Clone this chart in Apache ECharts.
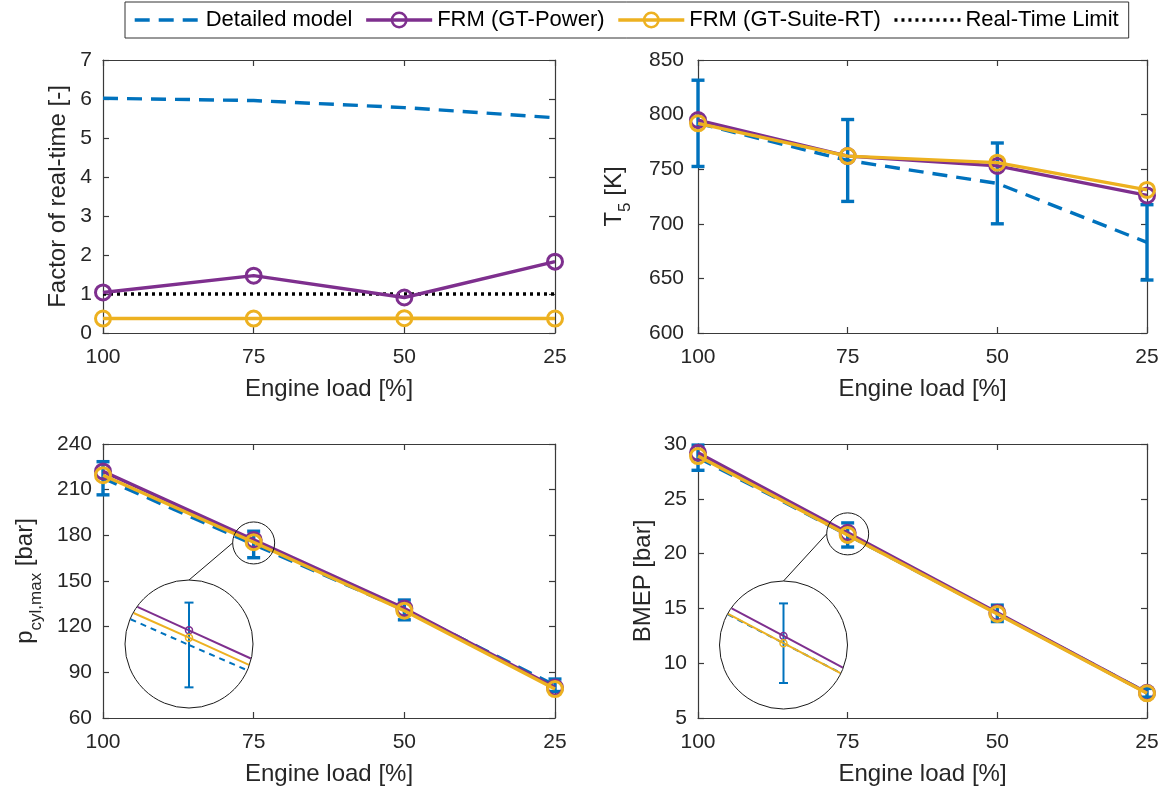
<!DOCTYPE html>
<html>
<head>
<meta charset="utf-8">
<script src="https://cdn.jsdelivr.net/npm/echarts@6.0.0/dist/echarts.min.js"></script>
<style>
  html, body { margin: 0; padding: 0; background: #fff; }
  #chart { width: 1166px; height: 791px; }
</style>
</head>
<body>
<div id="chart"></div>
<script>
// ---- data -------------------------------------------------------------
const loads = [100, 75, 50, 25];                 // engine load [%]
const loadAxis = [25, 100, 25];                  // min, max, step

// Factor of real-time [-]
const rtDetailed = [6.02, 5.96, 5.78, 5.52];
const rtGtPower  = [1.04, 1.47, 0.91, 1.83];
const rtGtSuite  = [0.37, 0.37, 0.38, 0.37];
const rtLimit    = [1, 1, 1, 1];
const rtAxis     = [0, 7, 1];

// Exhaust temperature T5 [K]
const t5Detailed = [792, 758, 737, 683];
const t5Spread   = [39.5, 37.5, 37, 34.5];
const t5GtPower  = [795, 762, 753, 726];
const t5GtSuite  = [792, 762, 756, 731];
const t5Axis     = [600, 850, 50];

// Peak cylinder pressure [bar]
const pDetailed  = [217.5, 174, 131, 81.5];
const pSpread    = [10.9, 8.7, 6.5, 4.1];
const pGtPower   = [222, 177, 132, 80];
const pGtSuite   = [219.5, 175.5, 130.5, 79];
const pAxis      = [60, 240, 30];

// Brake mean effective pressure [bar]
const bDetailed  = [28.75, 21.7, 14.55, 7.3];
const bSpread    = [1.15, 1.1, 0.75, 0.4];
const bGtPower   = [29.2, 21.9, 14.6, 7.3];
const bGtSuite   = [28.9, 21.7, 14.5, 7.25];
const bAxis      = [5, 30, 5];

const NAMES = ['Detailed model', 'FRM (GT-Power)', 'FRM (GT-Suite-RT)', 'Real-Time Limit'];

// ---- styling ------------------------------------------------------------
const FONT = "'Liberation Sans', Arial, Helvetica, sans-serif";
const INK = '#262626';
const FRAME = '#3a3a3a';
const BLUE = '#0072BD';
const PURPLE = '#7E2F8E';
const YELLOW = '#EDB120';
const NONE = 'rgba(255,255,255,0)';
const DASH = [15, 9];
const LW = 3.4;

// panel rectangles: top-left, top-right, bottom-left, bottom-right
const panels = [
  { left: 103, top: 60,  width: 452, height: 273 },
  { left: 698, top: 60,  width: 449, height: 273 },
  { left: 103, top: 444, width: 452, height: 274 },
  { left: 698, top: 444, width: 449, height: 274 }
];
const yAxes = [rtAxis, t5Axis, pAxis, bAxis];
const labelMargins = [11, 14, 11, 11];

const sub = (m, s, rest) => '{m|' + m + '}{s|' + s + '}{m|' + rest + '}';
const yNames = [
  'Factor of real-time [-]',
  sub('T', '5', ' [K]'),
  sub('p', 'cyl,max', ' [bar]'),
  'BMEP [bar]'
];
const yNameGaps = [33, 64, 58, 43];

// magnified views around the 75 % point of the pressure panels
const zooms = [
  { panel: 2, left: 125,   top: 580, size: 128, center: [75, 174.2], focus: [75, 175],  mag: 3.2, ring: 21,
    detailed: pDetailed, spread: pSpread, power: pGtPower, suite: pGtSuite },
  { panel: 3, left: 719.5, top: 581, size: 128, center: [75, 21.65], focus: [75, 21.8], mag: 3.3, ring: 21,
    detailed: bDetailed, spread: bSpread, power: bGtPower, suite: bGtSuite }
];

// ---- axes -----------------------------------------------------------------
// panel g owns xAxis/yAxis 2g (labelled) and 2g+1 (mirrored frame ticks)
const grids = [];
const xAxis = [];
const yAxis = [];
const frameLine = { lineStyle: { color: FRAME, width: 1.2 } };
const tickStyle = { inside: true, length: 6, lineStyle: { color: FRAME, width: 1.2 } };

panels.forEach((p, g) => {
  grids.push(Object.assign({ show: false }, p));
  const [ymin, ymax, ystep] = yAxes[g];
  const xBase = {
    gridIndex: g, type: 'value', min: loadAxis[0], max: loadAxis[1], interval: loadAxis[2], inverse: true,
    axisLine: Object.assign({ onZero: false }, frameLine), axisTick: tickStyle, splitLine: { show: false }
  };
  xAxis.push(Object.assign({}, xBase, {
    position: 'bottom',
    axisLabel: { color: INK, fontSize: 21, fontFamily: FONT, margin: 14 },
    name: 'Engine load [%]', nameLocation: 'middle', nameGap: 44,
    nameTextStyle: { color: INK, fontSize: 24, fontFamily: FONT }
  }));
  xAxis.push(Object.assign({}, xBase, { position: 'top', axisLabel: { show: false } }));
  const yBase = {
    gridIndex: g, type: 'value', min: ymin, max: ymax, interval: ystep,
    axisLine: Object.assign({ onZero: false }, frameLine), axisTick: tickStyle, splitLine: { show: false }
  };
  yAxis.push(Object.assign({}, yBase, {
    position: 'left',
    axisLabel: { color: INK, fontSize: 21, fontFamily: FONT, margin: labelMargins[g] },
    name: yNames[g], nameLocation: 'middle', nameRotate: 90, nameGap: yNameGaps[g],
    nameTextStyle: {
      color: INK, fontSize: 24, fontFamily: FONT,
      rich: {
        m: { color: INK, fontSize: 24, fontFamily: FONT, verticalAlign: 'top' },
        s: { color: INK, fontSize: 17, fontFamily: FONT, lineHeight: 32, verticalAlign: 'bottom' }
      }
    }
  }));
  yAxis.push(Object.assign({}, yBase, { position: 'right', axisLabel: { show: false } }));
});

// hidden axes for the magnified views
zooms.forEach((z) => {
  const gi = grids.length;
  grids.push({ show: false, left: z.left, top: z.top, width: z.size, height: z.size });
  const p = panels[z.panel];
  const [ymin, ymax] = yAxes[z.panel];
  const pxX = p.width / (loadAxis[1] - loadAxis[0]) * z.mag;
  const pxY = p.height / (ymax - ymin) * z.mag;
  const hx = z.size / 2 / pxX;
  const hy = z.size / 2 / pxY;
  z.axis = xAxis.length;
  xAxis.push({ gridIndex: gi, type: 'value', show: false, inverse: true,
    min: z.center[0] - hx, max: z.center[0] + hx });
  yAxis.push({ gridIndex: gi, type: 'value', show: false,
    min: z.center[1] - hy, max: z.center[1] + hy });
});

// ---- series -----------------------------------------------------------------
const pairs = (vals) => loads.map((x, i) => [x, vals[i]]);

function detailedLine(ax, vals) {
  return {
    name: NAMES[0], type: 'line', xAxisIndex: ax, yAxisIndex: ax, data: pairs(vals),
    symbol: 'none', lineStyle: { color: BLUE, width: LW, type: DASH },
    itemStyle: { color: NONE, borderWidth: 0 }, z: 3
  };
}
function frmLine(ax, vals, name, color, z) {
  return {
    name, type: 'line', xAxisIndex: ax, yAxisIndex: ax, data: pairs(vals),
    symbol: 'circle', symbolSize: 15,
    lineStyle: { color, width: LW },
    itemStyle: { color: NONE, borderColor: color, borderWidth: 3 },
    z
  };
}
function limitLine(ax, vals) {
  return {
    name: NAMES[3], type: 'line', xAxisIndex: ax, yAxisIndex: ax, data: pairs(vals),
    symbol: 'none', lineStyle: { color: '#000', width: LW, type: [3, 4] },
    itemStyle: { color: NONE, borderWidth: 0 }, z: 3
  };
}
function spreadBars(ax, centers, spreads, cap, width, onlyIndex) {
  const rows = loads.map((x, i) => [x, centers[i] - spreads[i], centers[i] + spreads[i]])
    .filter((r, i) => onlyIndex === undefined || i === onlyIndex);
  return {
    name: 'Detailed model spread', type: 'custom', xAxisIndex: ax, yAxisIndex: ax,
    clip: false, silent: true, z: 2, data: rows, encode: { x: 0, y: [1, 2] },
    renderItem(params, api) {
      const lo = api.coord([api.value(0), api.value(1)]);
      const hi = api.coord([api.value(0), api.value(2)]);
      const st = { stroke: BLUE, lineWidth: width };
      return {
        type: 'group', children: [
          { type: 'line', shape: { x1: lo[0], y1: lo[1], x2: hi[0], y2: hi[1] }, style: st },
          { type: 'line', shape: { x1: lo[0] - cap, y1: lo[1], x2: lo[0] + cap, y2: lo[1] }, style: st },
          { type: 'line', shape: { x1: hi[0] - cap, y1: hi[1], x2: hi[0] + cap, y2: hi[1] }, style: st }
        ]
      };
    }
  };
}

// segment a-b limited to the inside of circle (c, r)
function clipToCircle(a, b, c, r) {
  const dx = b[0] - a[0], dy = b[1] - a[1];
  const fx = a[0] - c[0], fy = a[1] - c[1];
  const A = dx * dx + dy * dy, B = 2 * (fx * dx + fy * dy), C = fx * fx + fy * fy - r * r;
  const disc = B * B - 4 * A * C;
  if (A === 0 || disc <= 0) return null;
  const s = Math.sqrt(disc);
  const t0 = Math.max(0, (-B - s) / (2 * A));
  const t1 = Math.min(1, (-B + s) / (2 * A));
  if (t0 >= t1) return null;
  return [[a[0] + t0 * dx, a[1] + t0 * dy], [a[0] + t1 * dx, a[1] + t1 * dy]];
}

// a trace drawn inside a round magnifier
function zoomTrace(ax, vals, color, width, dash, marker, z) {
  return {
    type: 'custom', xAxisIndex: ax, yAxisIndex: ax, clip: false, silent: true, z,
    data: [[loads[1], vals[1]]],
    renderItem(params, api) {
      const cs = params.coordSys;
      const c = [cs.x + cs.width / 2, cs.y + cs.height / 2];
      const r = cs.width / 2 - 0.5;
      const pts = loads.map((x, i) => api.coord([x, vals[i]]));
      const children = [];
      for (let i = 0; i < pts.length - 1; i++) {
        const seg = clipToCircle(pts[i], pts[i + 1], c, r);
        if (seg) {
          children.push({
            type: 'line',
            shape: { x1: seg[0][0], y1: seg[0][1], x2: seg[1][0], y2: seg[1][1] },
            style: { stroke: color, lineWidth: width, lineDash: dash || null }
          });
        }
      }
      if (marker) {
        pts.forEach((p) => {
          if (Math.hypot(p[0] - c[0], p[1] - c[1]) < r - 4) {
            children.push({ type: 'circle', shape: { cx: p[0], cy: p[1], r: 3.5 },
              style: { fill: 'none', stroke: color, lineWidth: 1.5 } });
          }
        });
      }
      return { type: 'group', children };
    }
  };
}

const P = (g) => 2 * g;   // labelled axis index of panel g
const series = [
  // factor of real-time
  detailedLine(P(0), rtDetailed),
  limitLine(P(0), rtLimit),
  frmLine(P(0), rtGtPower, NAMES[1], PURPLE, 4),
  frmLine(P(0), rtGtSuite, NAMES[2], YELLOW, 5),
  // T5
  spreadBars(P(1), t5Detailed, t5Spread, 6.5, LW),
  detailedLine(P(1), t5Detailed),
  frmLine(P(1), t5GtPower, NAMES[1], PURPLE, 4),
  frmLine(P(1), t5GtSuite, NAMES[2], YELLOW, 5),
  // p_cyl,max
  spreadBars(P(2), pDetailed, pSpread, 6.5, LW),
  detailedLine(P(2), pDetailed),
  frmLine(P(2), pGtPower, NAMES[1], PURPLE, 4),
  frmLine(P(2), pGtSuite, NAMES[2], YELLOW, 5),
  // BMEP
  spreadBars(P(3), bDetailed, bSpread, 6.5, LW),
  detailedLine(P(3), bDetailed),
  frmLine(P(3), bGtPower, NAMES[1], PURPLE, 4),
  frmLine(P(3), bGtSuite, NAMES[2], YELLOW, 5)
];

zooms.forEach((z) => {
  series.push(spreadBars(z.axis, z.detailed, z.spread, 4.5, 2, 1));
  series.push(zoomTrace(z.axis, z.detailed, BLUE, 2, [6, 5], false, 3));
  series.push(zoomTrace(z.axis, z.power, PURPLE, 2, null, true, 4));
  series.push(zoomTrace(z.axis, z.suite, YELLOW, 2, null, true, 5));
});

const chart = echarts.init(document.getElementById('chart'), null, { renderer: 'canvas' });
chart.setOption({
  animation: false,
  backgroundColor: '#fff',
  textStyle: { fontFamily: FONT },
  legend: {
    data: NAMES, top: 2, left: 125, orient: 'horizontal',
    padding: [7, 10, 7, 8], itemGap: 12, itemWidth: 66, itemHeight: 18,
    borderColor: '#333', borderWidth: 1, backgroundColor: '#fff', selectedMode: false,
    lineStyle: { width: LW },
    itemStyle: { borderWidth: 2.5 },
    textStyle: { color: '#000', fontSize: 22, fontFamily: FONT }
  },
  grid: grids,
  xAxis,
  yAxis,
  series
});

// magnifier outlines: small ring on the data, big ring for the view, and a leader line
const rings = [];
zooms.forEach((z) => {
  const cx = z.left + z.size / 2, cy = z.top + z.size / 2, r = z.size / 2;
  const f = chart.convertToPixel({ xAxisIndex: P(z.panel), yAxisIndex: P(z.panel) }, z.focus);
  const st = { fill: 'none', stroke: '#1a1a1a', lineWidth: 1 };
  rings.push({ type: 'circle', z: 50, shape: { cx, cy, r }, style: st });
  rings.push({ type: 'circle', z: 50, shape: { cx: f[0], cy: f[1], r: z.ring }, style: st });
  rings.push({ type: 'line', z: 50, shape: { x1: cx, y1: cy - r, x2: f[0] - z.ring, y2: f[1] }, style: st });
});
chart.setOption({ graphic: { elements: rings } });
</script>
</body>
</html>
